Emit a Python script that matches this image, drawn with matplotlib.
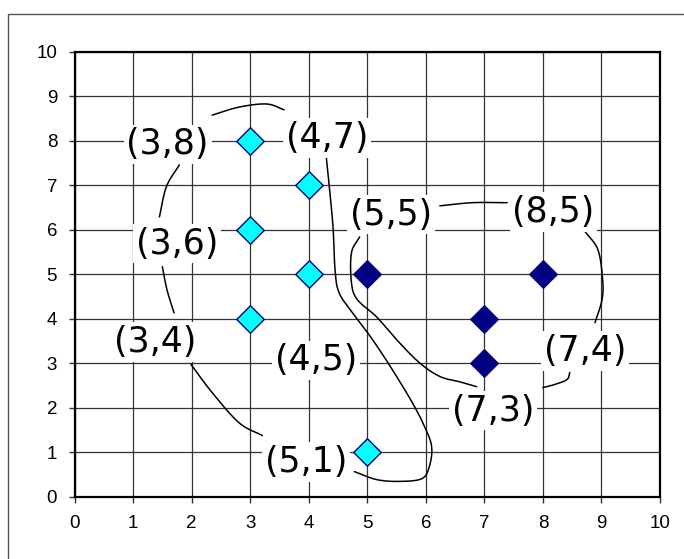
import numpy as np
import matplotlib
matplotlib.use("Agg")
import matplotlib.pyplot as plt
from matplotlib.patches import Rectangle

# ---- data ----
group_a_x = [3, 4, 3, 4, 3, 5]
group_a_y = [8, 7, 6, 5, 4, 1]
group_b_x = [5, 8, 7, 7]
group_b_y = [5, 5, 4, 3]

label_texts = ["(3,8)", "(4,7)", "(3,6)", "(4,5)", "(3,4)", "(5,1)",
               "(5,5)", "(8,5)", "(7,4)", "(7,3)"]
label_x = [1.59, 4.32, 1.75, 4.12, 1.37, 3.95, 5.41, 8.18, 8.72, 7.15]
label_y = [7.92, 8.06, 5.69, 3.06, 3.48, 0.78, 6.34, 6.40, 3.27, 1.93]

x_ticks = list(range(0, 11))
y_ticks = list(range(0, 11))

# hand-drawn enclosing strokes (data coordinates)
strokes = [
    [(2.35, 8.58), (2.81, 8.76), (3.28, 8.83), (3.58, 8.70)],
    [(1.79, 7.46), (1.57, 6.97), (1.45, 6.29)],
    [(1.50, 5.17), (1.58, 4.65), (1.70, 4.13)],
    [(1.99, 2.97), (2.35, 2.34), (2.81, 1.66), (3.21, 1.37)],
    [(4.78, 0.56), (5.16, 0.38), (5.55, 0.34), (5.93, 0.40), (6.06, 0.67),
     (6.10, 1.12), (5.98, 1.57), (5.77, 2.11), (5.43, 2.85), (5.09, 3.53),
     (4.75, 4.13), (4.52, 4.58), (4.45, 5.10), (4.41, 6.16), (4.30, 7.64)],
    [(4.87, 5.84), (4.73, 5.48), (4.73, 4.81), (4.83, 4.43), (5.16, 4.04),
     (5.50, 3.53), (5.89, 3.01), (6.24, 2.70), (6.58, 2.58), (6.87, 2.47)],
    [(6.24, 6.54), (6.80, 6.61), (7.39, 6.61)],
    [(8.72, 5.96), (8.94, 5.55), (9.02, 4.88), (9.01, 4.43), (8.89, 3.91)],
    [(8.46, 2.79), (8.41, 2.63), (8.20, 2.52), (8.00, 2.45)],
]


def catmull_rom(pts, n=20):
    p = np.asarray(pts, dtype=float)
    if len(p) < 3:
        return p
    p = np.vstack([2 * p[0] - p[1], p, 2 * p[-1] - p[-2]])
    out = []
    for i in range(1, len(p) - 2):
        p0, p1, p2, p3 = p[i - 1], p[i], p[i + 1], p[i + 2]
        t = np.linspace(0, 1, n, endpoint=False)[:, None]
        seg = 0.5 * ((2 * p1) + (-p0 + p2) * t + (2 * p0 - 5 * p1 + 4 * p2 - p3) * t ** 2
                     + (-p0 + 3 * p1 - 3 * p2 + p3) * t ** 3)
        out.append(seg)
    out.append(p[-2][None, :])
    return np.vstack(out)


fig = plt.figure(figsize=(6.84, 5.59), dpi=100)
fig.patch.set_facecolor("white")
fig.patches.append(Rectangle((7.5 / 684, -0.1), 1.2, 1.1 - 14 / 559,
                             transform=fig.transFigure, fill=False,
                             edgecolor="#555555", linewidth=1.0))

ax = fig.add_axes([74.5 / 684, 1 - 496.5 / 559, 585.5 / 684, 444.5 / 559])
ax.set_xlim(0, 10)
ax.set_ylim(0, 10)
ax.set_xticks(x_ticks)
ax.set_yticks(y_ticks)
ax.grid(True, color="#333333", linewidth=0.9, zorder=0)
ax.set_axisbelow(True)
for s in ax.spines.values():
    s.set_linewidth(1.6)
    s.set_color("black")
ax.tick_params(direction="out", length=4, width=1, color="#333333",
               labelsize=13.5, labelcolor="black")
for lab in ax.get_xticklabels() + ax.get_yticklabels():
    lab.set_fontfamily("Liberation Sans")
ax.tick_params(axis="x", pad=9)
ax.tick_params(axis="y", pad=8.5)

for st in strokes:
    c = catmull_rom(st)
    ax.plot(c[:, 0], c[:, 1], color="black", linewidth=1.1, zorder=2,
            solid_capstyle="round")

ax.scatter(group_a_x, group_a_y, marker="D", s=14 ** 2, facecolor="#00FFFF",
           edgecolor="#000080", linewidth=1.0, zorder=4)
ax.scatter(group_b_x, group_b_y, marker="D", s=14 ** 2, facecolor="#000080",
           edgecolor="#000080", linewidth=1.0, zorder=4)

for t, x, y in zip(label_texts, label_x, label_y):
    ax.text(x, y, t, fontsize=25, family="DejaVu Sans", ha="center", va="center",
            zorder=5, bbox=dict(boxstyle="square,pad=0.08", facecolor="white",
                                edgecolor="none"))

fig.savefig("out.png", dpi=100, facecolor="white")
